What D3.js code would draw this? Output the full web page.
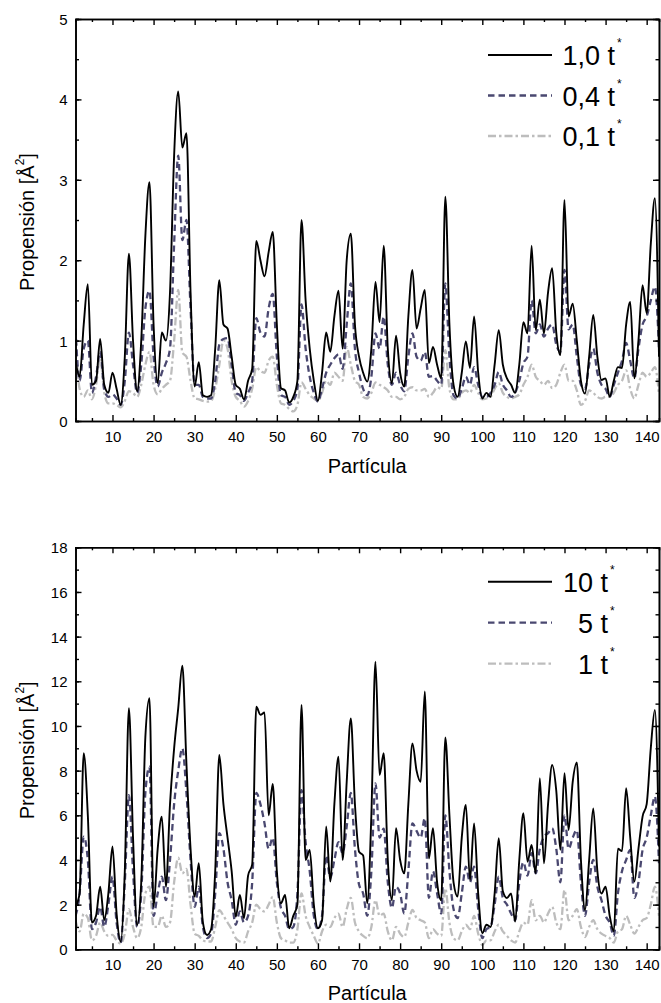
<!DOCTYPE html>
<html>
<head>
<meta charset="utf-8">
<script src="https://cdn.jsdelivr.net/npm/d3@7"></script>
<style>
  body { margin: 0; background: #fff; }
  text { font-family: Arial, "Liberation Sans", sans-serif; fill: #000; }
</style>
</head>
<body>
<div id="chart"></div>
<script>
// particle index 1..143
const particles = d3.range(1, 144)

// upper panel: 1,0 t* / 0,4 t* / 0,1 t*
const top10 = [
  0.75, 0.55, 1.2, 1.7, 0.45, 0.5, 1.02, 0.45, 0.35, 0.6,
  0.4, 0.2, 0.8, 2.08, 1.0, 0.37, 1.0, 2.3, 2.97, 1.2,
  0.47, 1.1, 1.0, 1.6, 3.3, 4.1, 3.4, 3.58, 1.6, 0.43,
  0.73, 0.32, 0.3, 0.32, 0.9, 1.75, 1.2, 1.15, 0.8, 0.45,
  0.4, 0.27, 0.5, 0.65, 2.24, 2.0, 1.8, 2.1, 2.35, 1.2,
  0.41, 0.38, 0.23, 0.3, 0.5, 2.5, 1.5, 0.9, 0.5, 0.25,
  0.6, 1.1, 0.86, 1.3, 1.62, 0.9, 2.0, 2.33, 1.2, 0.8,
  0.6, 0.49, 0.9, 1.73, 1.23, 2.18, 0.9, 0.47, 1.06, 0.6,
  0.43, 1.3, 1.88, 1.15, 1.4, 1.63, 0.72, 0.92, 0.7, 0.53,
  2.79, 1.2, 0.45, 0.3, 0.6, 0.99, 0.66, 1.3, 0.6, 0.28,
  0.35, 0.3, 0.7, 1.13, 0.7, 0.53, 0.45, 0.35, 0.7, 1.23,
  1.09, 2.18, 1.13, 1.51, 1.09, 1.6, 1.9, 1.1, 0.82, 2.75,
  1.3, 1.46, 1.0, 0.5, 0.34, 0.8, 1.32, 0.8, 0.51, 0.53,
  0.3, 0.5, 0.67, 0.66, 1.2, 1.48, 0.53, 1.0, 1.69, 1.34,
  2.2, 2.77, 0.8
]
const top04 = [
  1.15, 0.5, 0.9, 1.0, 0.35, 0.55, 0.86, 0.4, 0.3, 0.33,
  0.28, 0.2, 0.5, 1.1, 0.7, 0.35, 0.7, 1.4, 1.62, 0.8,
  0.43, 0.6, 0.72, 0.9, 2.2, 3.3, 2.25, 2.5, 1.4, 0.45,
  0.45, 0.3, 0.28, 0.28, 0.5, 0.95, 1.02, 1.03, 0.7, 0.35,
  0.32, 0.25, 0.35, 0.5, 1.28, 1.1, 1.05, 1.4, 1.58, 0.8,
  0.32, 0.3, 0.2, 0.25, 0.4, 1.45, 0.9, 0.55, 0.35, 0.24,
  0.4, 0.6, 0.7, 0.78, 0.83, 0.65, 1.2, 1.71, 0.9, 0.6,
  0.4, 0.32, 0.55, 1.09, 0.9, 1.3, 0.7, 0.45, 0.6, 0.45,
  0.37, 0.8, 1.09, 0.8, 0.75, 0.86, 0.55, 0.56, 0.5, 0.45,
  1.71, 0.8, 0.32, 0.28, 0.4, 0.55, 0.45, 0.67, 0.45, 0.3,
  0.3, 0.35, 0.45, 0.61, 0.45, 0.38, 0.3, 0.35, 0.5, 0.72,
  0.8, 1.5, 1.09, 1.2, 1.05, 1.15, 1.2, 0.95, 0.86, 1.88,
  1.14, 1.2, 0.8, 0.45, 0.4, 0.7, 0.9, 0.6, 0.45, 0.4,
  0.3, 0.45, 0.6, 0.75, 0.97, 0.75, 0.53, 0.9, 1.2, 1.3,
  1.5, 1.67, 0.9
]
const top01 = [
  1.1, 0.4, 0.3, 0.38, 0.27, 0.45, 0.78, 0.35, 0.22, 0.22,
  0.2, 0.17, 0.25, 0.37, 0.35, 0.3, 0.45, 0.7, 0.86, 0.45,
  0.33, 0.4, 0.45, 0.5, 1.0, 1.63, 0.85, 0.8, 0.5, 0.28,
  0.27, 0.25, 0.24, 0.25, 0.4, 0.7, 1.0, 0.9, 0.5, 0.3,
  0.25, 0.18, 0.25, 0.4, 0.67, 0.62, 0.6, 0.75, 0.8, 0.45,
  0.22, 0.2, 0.15, 0.12, 0.2, 0.48, 0.4, 0.32, 0.28, 0.25,
  0.35, 0.5, 0.45, 0.6, 0.55, 0.5, 0.92, 0.7, 0.5, 0.45,
  0.3, 0.28, 0.35, 0.48, 0.45, 0.42, 0.38, 0.3, 0.3, 0.27,
  0.3, 0.4, 0.42, 0.38, 0.38, 0.4, 0.3, 0.35, 0.42, 0.4,
  0.88, 0.4, 0.27, 0.27, 0.35, 0.38, 0.35, 0.45, 0.35, 0.27,
  0.28, 0.3, 0.4, 0.47, 0.35, 0.3, 0.28, 0.3, 0.33, 0.45,
  0.55, 0.7, 0.55, 0.5, 0.45, 0.5, 0.41, 0.45, 0.6, 0.7,
  0.5, 0.5, 0.38, 0.2, 0.25, 0.38, 0.35, 0.3, 0.28, 0.3,
  0.3, 0.35, 0.45, 0.5, 0.63, 0.4, 0.28, 0.45, 0.6, 0.55,
  0.6, 0.67, 0.33
]

// lower panel: 10 t* / 5 t* / 1 t*
const bot10 = [
  1.9, 2.5, 8.78, 6.0, 1.2, 1.5, 2.8, 1.31, 2.5, 4.6,
  1.6, 0.34, 3.5, 10.8, 5.0, 1.09, 3.0, 9.5, 11.24, 1.9,
  4.5, 5.94, 2.8, 6.5, 9.0, 10.8, 12.7, 8.3, 4.5, 2.36,
  3.85, 1.2, 0.64, 0.9, 3.5, 8.7, 6.5, 5.0, 3.5, 1.46,
  2.43, 1.39, 3.3, 3.8, 10.86, 10.5, 10.6, 6.0, 7.4, 3.5,
  2.06, 2.43, 0.94, 1.5, 2.0, 10.94, 4.0, 4.45, 2.0, 0.94,
  1.3, 5.5, 3.03, 6.5, 8.62, 4.0, 7.5, 10.34, 6.5, 4.37,
  4.2, 2.06, 6.0, 12.88, 7.8, 8.78, 4.0, 2.2, 5.42, 4.0,
  3.4, 6.5, 9.22, 8.0, 7.5, 11.54, 4.07, 5.42, 3.0, 2.2,
  9.49, 6.0, 3.0, 2.36, 5.0, 6.46, 3.1, 5.64, 2.5, 0.72,
  1.1, 1.0, 2.5, 4.97, 2.6, 2.3, 2.5, 1.24, 4.0, 6.09,
  3.92, 4.67, 3.4, 7.66, 3.85, 6.5, 8.25, 7.1, 4.45, 7.88,
  5.34, 7.5, 8.37, 4.0, 1.76, 4.0, 6.31, 3.5, 2.5, 2.8,
  1.5, 0.8, 4.5, 4.4, 7.21, 5.0, 3.03, 4.5, 5.94, 6.5,
  9.0, 10.72, 4.6
]
const bot5 = [
  1.5, 2.5, 5.04, 4.0, 0.9, 1.2, 1.9, 1.0, 2.0, 3.25,
  1.2, 0.3, 3.0, 6.9, 3.5, 1.0, 2.5, 7.0, 8.18, 1.5,
  2.5, 3.25, 2.2, 4.0, 6.5, 8.0, 9.0, 7.0, 4.0, 1.9,
  2.8, 1.0, 0.5, 0.7, 2.5, 5.2, 4.5, 3.0, 2.2, 1.1,
  1.7, 1.2, 1.5, 3.0, 7.0, 6.5, 5.64, 4.5, 5.0, 3.0,
  1.85, 1.5, 0.9, 1.0, 2.5, 7.13, 4.8, 3.5, 1.5, 0.9,
  1.5, 4.2, 3.2, 4.0, 4.8, 4.3, 5.5, 7.0, 4.5, 2.9,
  2.5, 1.5, 3.5, 7.43, 5.0, 5.4, 3.0, 1.85, 2.8, 2.5,
  1.6, 3.5, 5.64, 5.3, 5.0, 5.87, 2.3, 3.5, 2.5, 1.6,
  6.0, 3.5, 1.8, 1.4, 2.5, 3.7, 3.0, 3.7, 1.8, 0.5,
  0.9, 1.0, 2.0, 3.25, 2.3, 2.0, 1.6, 1.3, 3.0, 3.9,
  3.3, 4.3, 3.4, 4.5, 5.04, 5.2, 5.42, 4.5, 3.0, 6.0,
  4.5, 5.0, 5.34, 3.0, 1.5, 3.0, 4.0, 2.8, 2.2, 1.5,
  1.2, 0.6, 2.5, 3.5, 4.0, 4.45, 2.3, 3.0, 4.45, 5.0,
  6.0, 6.84, 3.85
]
const bot1 = [
  1.3, 0.8, 1.6, 1.4, 0.4, 0.6, 1.2, 0.8, 0.6, 0.65,
  0.4, 0.25, 0.7, 1.8, 1.0, 0.5, 1.0, 2.5, 2.8, 1.0,
  1.0, 1.5, 1.0, 1.2, 3.0, 4.1, 3.4, 3.6, 2.0, 0.7,
  0.6, 0.4, 0.35, 0.35, 1.0, 1.75, 1.5, 1.2, 0.9, 0.5,
  0.35, 0.3, 0.8, 1.2, 2.0, 1.8, 1.7, 2.0, 2.35, 1.2,
  0.5, 0.4, 0.3, 0.3, 0.9, 2.5, 1.5, 1.0, 0.6, 0.25,
  0.8, 1.1, 1.0, 1.4, 1.6, 1.0, 1.8, 2.3, 1.2, 0.8,
  0.6, 0.5, 1.0, 2.2, 1.5, 1.6, 0.8, 0.4, 1.0, 0.7,
  0.55, 1.2, 1.76, 1.4, 1.3, 1.2, 0.5, 0.9, 0.7, 0.6,
  2.73, 1.2, 0.5, 0.4, 0.8, 1.1, 0.9, 1.5, 0.7, 0.2,
  0.4, 0.4, 0.8, 1.1, 0.8, 0.6, 0.4, 0.3, 0.8, 1.2,
  1.1, 2.2, 1.3, 1.5, 1.2, 1.6, 1.9, 1.2, 0.9, 2.66,
  1.3, 1.5, 1.8, 1.0, 0.55, 1.0, 1.3, 0.9, 0.7, 0.6,
  0.5, 0.3, 0.8, 0.9, 1.5, 1.1, 0.7, 1.0, 1.3, 1.4,
  2.0, 2.8, 1.5
]

const topLabels = ['1,0 t', '0,4 t', '0,1 t']
const botLabels = ['10 t', '5 t', '1 t']
const xTicks = [10, 20, 30, 40, 50, 60, 70, 80, 90, 100, 110, 120, 130, 140]
const topYTicks = [0, 1, 2, 3, 4, 5]
const botYTicks = [0, 2, 4, 6, 8, 10, 12, 14, 16, 18]

// 线型: 实线 / 虚线 / 点划线
const styles = [
  { color: '#000000', dash: null, width: 1.9 },
  { color: '#4a4870', dash: '6.5,4', width: 2.3 },
  { color: '#bdbdbd', dash: '8,3,2.5,3', width: 2.3 }
]

const W = 661
const H = 1003
const svg = d3.select('#chart').append('svg')
  .attr('width', W)
  .attr('height', H)
  .style('display', 'block')
  .style('background', '#fff')

const x = d3.scaleLinear().domain([1, 143]).range([75.5, 659])

function panel(cfg) {
  const y = d3.scaleLinear().domain([0, cfg.ymax]).range([cfg.bottom, cfg.top])
  const g = svg.append('g')
  const id = 'clip' + cfg.key

  g.append('clipPath').attr('id', id)
    .append('rect')
    .attr('x', x.range()[0]).attr('y', cfg.top)
    .attr('width', x.range()[1] - x.range()[0])
    .attr('height', cfg.bottom - cfg.top)

  // 曲线 (gray, dashed, then solid on top)
  const line = d3.line()
    .x((d, i) => x(particles[i]))
    .y(d => y(d))
    .curve(d3.curveMonotoneX)

  const order = [2, 1, 0]
  order.forEach(k => {
    const s = styles[k]
    g.append('path')
      .attr('clip-path', `url(#${id})`)
      .attr('d', line(cfg.series[k]))
      .attr('fill', 'none')
      .attr('stroke', s.color)
      .attr('stroke-width', s.width)
      .attr('stroke-dasharray', s.dash)
      .attr('stroke-linejoin', 'round')
  })

  // axes
  const fontSize = '15px'
  const minorY = d3.range(0, cfg.ymax + 0.001, cfg.minorStep)
  const minorX = [5, 15, 25, 35, 45, 55, 65, 75, 85, 95, 105, 115, 125, 135]

  const bottomAxis = g.append('g')
    .attr('transform', `translate(0,${cfg.bottom})`)
    .call(d3.axisBottom(x).tickValues(xTicks).tickSizeInner(-6).tickSizeOuter(0).tickPadding(10))
  g.append('g')
    .attr('transform', `translate(0,${cfg.bottom})`)
    .call(d3.axisBottom(x).tickValues(minorX).tickSize(-3).tickFormat(''))
  g.append('g')
    .attr('transform', `translate(0,${cfg.top})`)
    .call(d3.axisTop(x).tickValues(xTicks).tickSizeInner(-6).tickSizeOuter(0).tickFormat(''))
  g.append('g')
    .attr('transform', `translate(0,${cfg.top})`)
    .call(d3.axisTop(x).tickValues(minorX).tickSize(-3).tickFormat(''))

  const leftAxis = g.append('g')
    .attr('transform', `translate(${x.range()[0]},0)`)
    .call(d3.axisLeft(y).tickValues(cfg.yTicks).tickFormat(d3.format('d'))
      .tickSizeInner(-6).tickSizeOuter(0).tickPadding(8))
  g.append('g')
    .attr('transform', `translate(${x.range()[0]},0)`)
    .call(d3.axisLeft(y).tickValues(minorY).tickSize(-3.5).tickFormat(''))
  g.append('g')
    .attr('transform', `translate(${x.range()[1]},0)`)
    .call(d3.axisRight(y).tickValues(cfg.yTicks).tickSizeInner(-6).tickSizeOuter(0).tickFormat(''))
  g.append('g')
    .attr('transform', `translate(${x.range()[1]},0)`)
    .call(d3.axisRight(y).tickValues(minorY).tickSize(-3.5).tickFormat(''))

  g.selectAll('.domain').attr('stroke', '#000').attr('stroke-width', 1.6)
  g.selectAll('.tick line').attr('stroke', '#000').attr('stroke-width', 1.4)
  g.selectAll('.tick text')
    .style('font-size', fontSize)
    .style('font-family', 'Arial, "Liberation Sans", sans-serif')
    .attr('fill', '#000')
  bottomAxis.selectAll('text').attr('dy', '0.71em')
  leftAxis.selectAll('text').attr('dy', '0.36em')

  // axis titles
  g.append('text')
    .attr('x', (x.range()[0] + x.range()[1]) / 2)
    .attr('y', cfg.xTitleY)
    .attr('text-anchor', 'middle')
    .style('font-size', '20px')
    .text('Partícula')

  const yt = g.append('text')
    .attr('transform', `translate(33.5,${(cfg.top + cfg.bottom) / 2 + 2}) rotate(-90)`)
    .attr('text-anchor', 'middle')
    .style('font-size', '20px')
  yt.append('tspan').text('Propensión [Å')
  yt.append('tspan').attr('dy', -10).style('font-size', '12px').text('2')
  yt.append('tspan').attr('dy', 10).text(']')

  // legend
  const lg = g.selectAll('g.legend').data(cfg.labels).enter()
    .append('g')
    .classed('legend', true)
    .attr('transform', (d, i) => `translate(0,${cfg.legendY + i * cfg.legendGap})`)

  lg.append('line')
    .attr('x1', 488).attr('x2', 552)
    .attr('stroke', (d, i) => styles[i].color)
    .attr('stroke-width', (d, i) => styles[i].width)
    .attr('stroke-dasharray', (d, i) => styles[i].dash)

  lg.append('text')
    .attr('x', cfg.legendTextX)
    .attr('y', 10)
    .attr('text-anchor', 'end')
    .style('font-size', '27px')
    .text(d => d)

  lg.append('text')
    .attr('x', cfg.legendTextX + 2)
    .attr('y', -8)
    .style('font-size', '12px')
    .text('*')
}

panel({
  key: 'a',
  top: 19,
  bottom: 421,
  ymax: 5,
  minorStep: 0.5,
  yTicks: topYTicks,
  series: [top10, top04, top01],
  labels: topLabels,
  legendY: 55,
  legendGap: 40.5,
  legendTextX: 615,
  xTitleY: 473
})

panel({
  key: 'b',
  top: 547.3,
  bottom: 949.3,
  ymax: 18,
  minorStep: 1,
  yTicks: botYTicks,
  series: [bot10, bot5, bot1],
  labels: botLabels,
  legendY: 581.7,
  legendGap: 41,
  legendTextX: 608,
  xTitleY: 1000
})
</script>
</body>
</html>
